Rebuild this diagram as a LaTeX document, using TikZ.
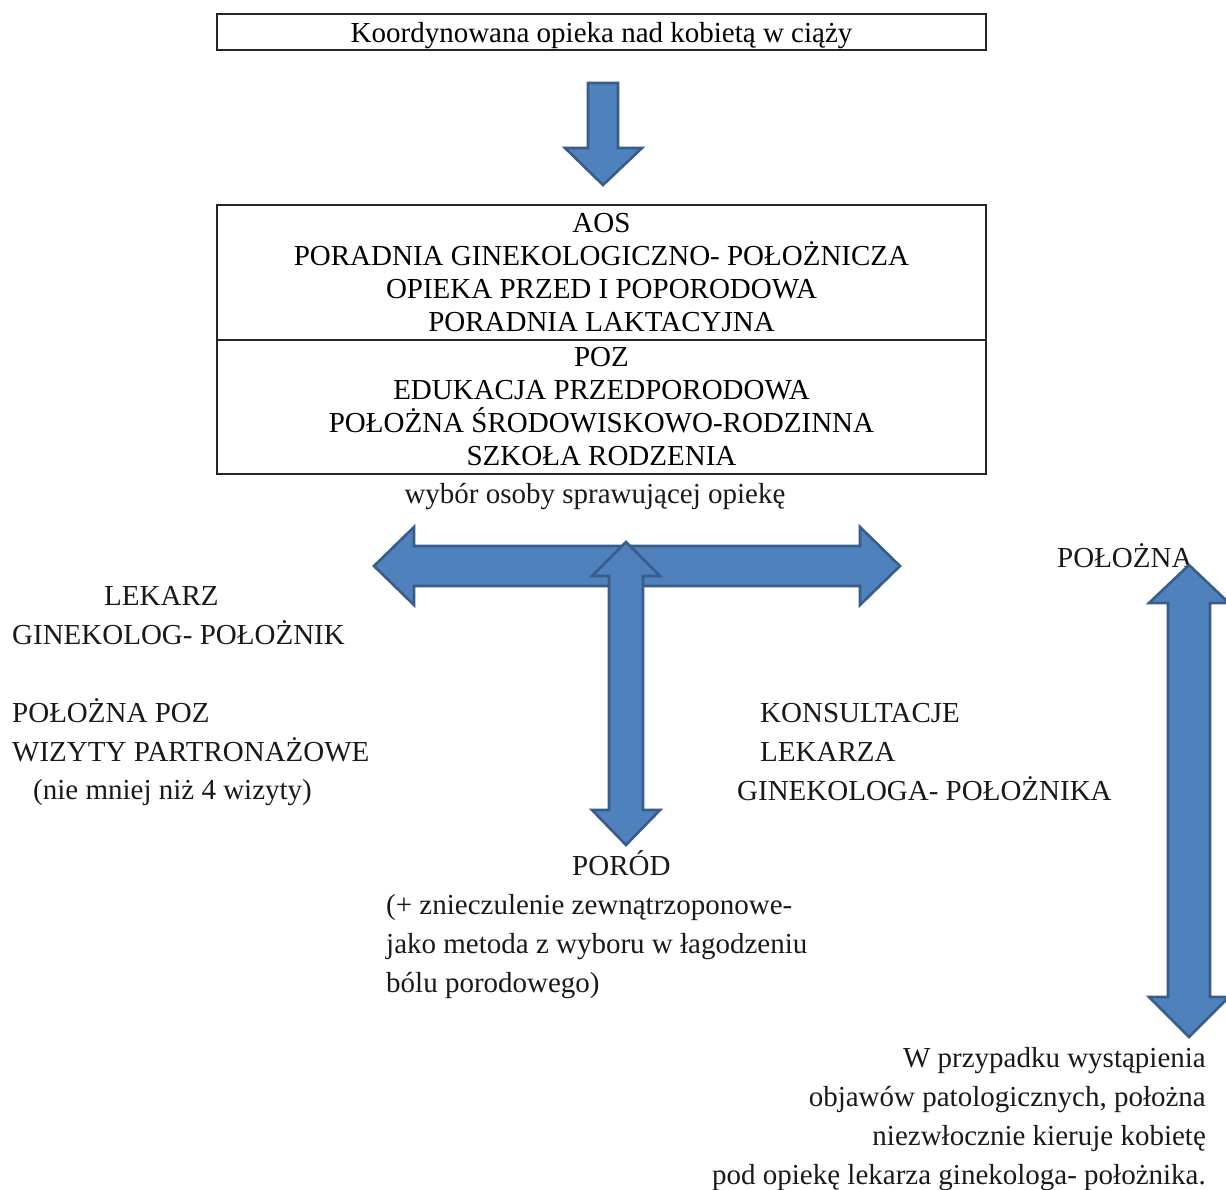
\documentclass[tikz,border=0pt]{standalone}
\usepackage{fontspec}
\setmainfont{Liberation Serif}
\usetikzlibrary{positioning}
\definecolor{arrowblue}{HTML}{4F81BD}
\definecolor{arrowedge}{HTML}{385D8A}
\tikzset{
    %Define style for the boxes of the table
    tabbox/.style={
           rectangle,
           draw=black!85, line width=1.3pt,
           minimum width=769pt,
           inner sep=0pt, outer sep=0pt,
           align=center,
           font=\fontsize{29}{33}\selectfont},
    %Define style for free text
    plain/.style={
           inner sep=0pt,
           text=black!90,
           font=\fontsize{29}{38.8}\selectfont},
    % Define style for the block arrows
    bigarrow/.style={
           fill=arrowblue,
           draw=arrowedge,
           line width=2.6pt,
           line join=miter}
}
\begin{document}
\begin{tikzpicture}[x=1pt,y=-1pt]
\useasboundingbox (0,0) rectangle (1226,1189);

 %boxes
\node[tabbox, minimum height=36pt, text depth=0pt](title) at (601.5,32){Koordynowana opieka nad kobietą w ciąży};
\node[tabbox, minimum height=135pt](aos) at (601.5,272.5){AOS\\PORADNIA GINEKOLOGICZNO- POŁOŻNICZA\\OPIEKA PRZED I POPORODOWA\\PORADNIA LAKTACYJNA};
\node[tabbox, minimum height=134pt, below=0pt of aos](poz){POZ\\EDUKACJA PRZEDPORODOWA\\POŁOŻNA ŚRODOWISKOWO-RODZINNA\\SZKOŁA RODZENIA};

 %texts
\node[plain, anchor=base](wybor) at (595,503){wybór osoby sprawującej opiekę};
\node[plain, anchor=base west](polozna) at (1057,567.5){POŁOŻNA};
\node[plain, anchor=north west, align=left](lekarz) at (12,586.5){\hspace*{92pt}LEKARZ\\GINEKOLOG- POŁOŻNIK\\[38.8pt]POŁOŻNA POZ\\WIZYTY PARTRONAŻOWE\\\hspace*{21pt}(nie mniej niż 4 wizyty)};
\node[plain, anchor=north west, align=left](konsult) at (737,703.5){\hspace*{23pt}KONSULTACJE\\\hspace*{23pt}LEKARZA\\GINEKOLOGA- POŁOŻNIKA};
\node[plain, anchor=base west, align=left](porod) at (386,992){\hspace*{186pt}PORÓD\\(+ znieczulenie zewnątrzoponowe-\\jako metoda z wyboru w łagodzeniu\\bólu porodowego)};
\node[plain, anchor=north east, align=right](patol) at (1206,1047.5){W przypadku wystąpienia\\objawów patologicznych, położna\\niezwłocznie kieruje kobietę\\pod opiekę lekarza ginekologa- położnika.};

 %arrows
\draw[bigarrow] (588,83) -- (618,83) -- (618,148) -- (642,148) -- (603,185)
    -- (565,148) -- (588,148) -- cycle;
\draw[bigarrow] (374,566) -- (414,527) -- (414,546) -- (860,546) -- (860,527)
    -- (900,566) -- (860,605) -- (860,586) -- (414,586) -- (414,605) -- cycle;
\draw[bigarrow] (626,542) -- (660,576) -- (643,576) -- (643,810) -- (660,810)
    -- (626,845) -- (592,810) -- (609,810) -- (609,576) -- (592,576) -- cycle;
\draw[bigarrow] (1189,565) -- (1229,603) -- (1210,603) -- (1210,997) -- (1229,997)
    -- (1189,1037) -- (1149,997) -- (1168,997) -- (1168,603) -- (1149,603) -- cycle;

\end{tikzpicture}
\end{document}
